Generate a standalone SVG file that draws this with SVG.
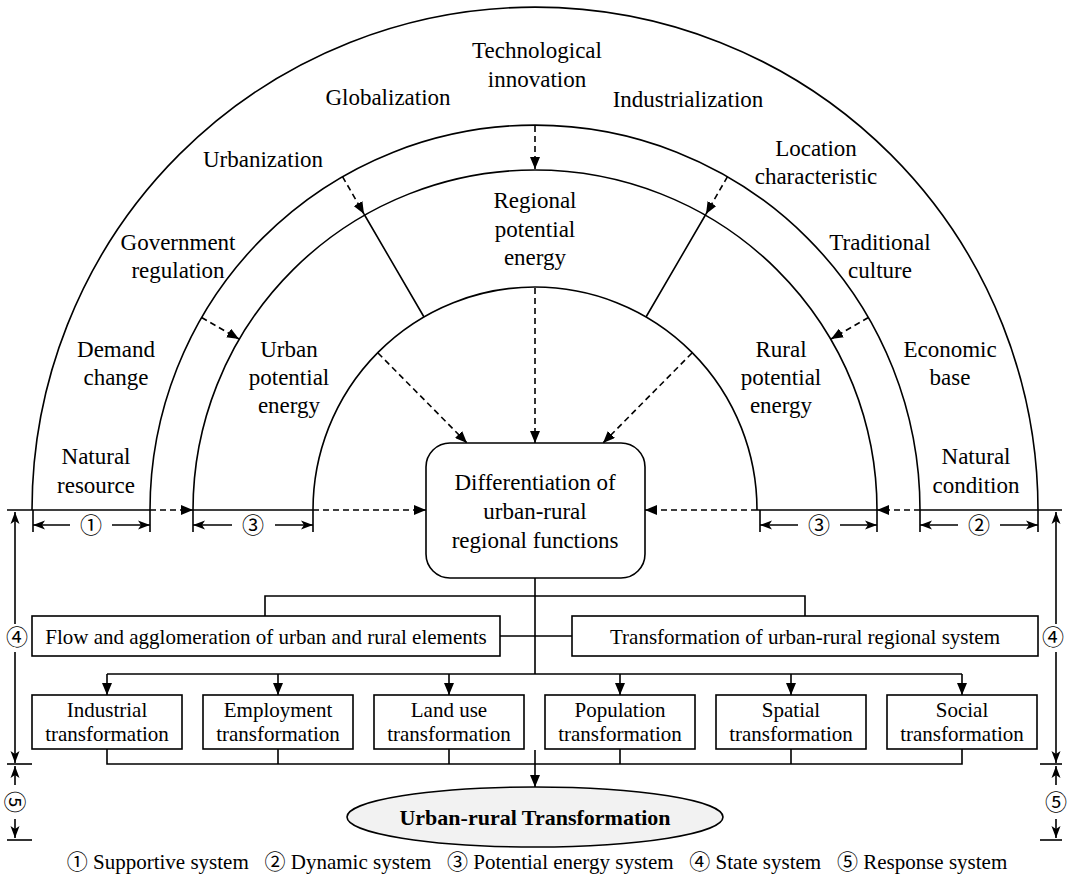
<svg xmlns="http://www.w3.org/2000/svg" width="1067" height="879" viewBox="0 0 1067 879">
  <defs>
    <marker id="ah" viewBox="0 0 12 10" refX="12" refY="5" markerWidth="12" markerHeight="10" markerUnits="userSpaceOnUse" orient="auto">
      <path d="M0,0 L12,5 L0,10 z" fill="#000" stroke="none"/>
    </marker>
    <marker id="dim" viewBox="0 0 12 10" refX="12" refY="5" markerWidth="12" markerHeight="10" markerUnits="userSpaceOnUse" orient="auto">
      <path d="M0,0.5 L12,5 L0,9.5 L3,5 z" fill="#000" stroke="none"/>
    </marker>
    <style>
      .ln { fill: none; stroke: #000; stroke-width: 1.6; }
      .dash { fill: none; stroke: #000; stroke-width: 1.6; stroke-dasharray: 6 4; }
      .box { fill: #fff; stroke: #000; stroke-width: 1.6; }
      text { font-family: "Liberation Serif", "Times New Roman", "Noto Sans CJK SC", serif; fill: #000; text-anchor: middle; }
      .lbl { font-size: 23px; }
      .bx { font-size: 21px; }
      .num { font-size: 22px; }
      .leg { font-size: 21px; }
    </style>
  </defs>

  <!-- concentric bands -->
  <g id="bands">
    <path class="ln" d="M32 510 A503 503 0 0 1 1038 510"/>
    <path class="ln" d="M150 510 A385 385 0 0 1 920 510"/>
    <path class="ln" d="M193 510 A342 340 0 0 1 877 510"/>
    <path class="ln" d="M313 510 A222 223 0 0 1 757 510"/>
    <!-- base line segments of the bands -->
    <path class="ln" d="M7 510 H150 M193 510 H313 M757 510 H877 M920 510 H1062"/>
    <!-- radial dividers of the potential energy band -->
    <path class="ln" d="M364 214 L424 317 M706 214 L646 317"/>
  </g>

  <!-- outer band: supportive and dynamic factors -->
  <g id="outer-labels" class="lbl">
    <text x="96" y="464">Natural</text><text x="96" y="493">resource</text>
    <text x="116" y="357">Demand</text><text x="116" y="385">change</text>
    <text x="178" y="250">Government</text><text x="178" y="278">regulation</text>
    <text x="263" y="167">Urbanization</text>
    <text x="388" y="105">Globalization</text>
    <text x="537" y="58">Technological</text><text x="537" y="87">innovation</text>
    <text x="688" y="107">Industrialization</text>
    <text x="816" y="156">Location</text><text x="816" y="184">characteristic</text>
    <text x="880" y="250">Traditional</text><text x="880" y="278">culture</text>
    <text x="950" y="357">Economic</text><text x="950" y="385">base</text>
    <text x="976" y="464">Natural</text><text x="976" y="493">condition</text>
  </g>

  <!-- potential energy band -->
  <g id="potential-labels" class="lbl">
    <text x="289" y="357">Urban</text><text x="289" y="385">potential</text><text x="289" y="413">energy</text>
    <text x="535" y="208">Regional</text><text x="535" y="237">potential</text><text x="535" y="265">energy</text>
    <text x="781" y="357">Rural</text><text x="781" y="385">potential</text><text x="781" y="413">energy</text>
  </g>

  <!-- central node -->
  <g id="differentiation">
    <rect class="box" x="426" y="443" width="219" height="135" rx="24" ry="24"/>
    <text class="lbl" x="535" y="490">Differentiation of</text>
    <text class="lbl" x="535" y="519">urban-rural</text>
    <text class="lbl" x="535" y="548">regional functions</text>
  </g>

  <g id="flow">
    <rect class="box" x="32" y="616" width="468" height="40"/>
    <text class="bx" x="266" y="644">Flow and agglomeration of urban and rural elements</text>
  </g>
  <g id="system">
    <rect class="box" x="572" y="616" width="466" height="40"/>
    <text class="bx" x="805" y="644">Transformation of urban-rural regional system</text>
  </g>

  <g id="industrial">
    <rect class="box" x="32" y="695" width="150" height="54"/>
    <text class="bx" x="107" y="717">Industrial</text><text class="bx" x="107" y="741">transformation</text>
  </g>
  <g id="employment">
    <rect class="box" x="203" y="695" width="150" height="54"/>
    <text class="bx" x="278" y="717">Employment</text><text class="bx" x="278" y="741">transformation</text>
  </g>
  <g id="landuse">
    <rect class="box" x="374" y="695" width="150" height="54"/>
    <text class="bx" x="449" y="717">Land use</text><text class="bx" x="449" y="741">transformation</text>
  </g>
  <g id="population">
    <rect class="box" x="545" y="695" width="150" height="54"/>
    <text class="bx" x="620" y="717">Population</text><text class="bx" x="620" y="741">transformation</text>
  </g>
  <g id="spatial">
    <rect class="box" x="716" y="695" width="150" height="54"/>
    <text class="bx" x="791" y="717">Spatial</text><text class="bx" x="791" y="741">transformation</text>
  </g>
  <g id="social">
    <rect class="box" x="887" y="695" width="150" height="54"/>
    <text class="bx" x="962" y="717">Social</text><text class="bx" x="962" y="741">transformation</text>
  </g>

  <g id="result">
    <ellipse cx="535" cy="817" rx="188" ry="30" fill="#f2f2f2" stroke="#000" stroke-width="1.6"/>
    <text x="535" y="825" font-size="22" font-weight="bold">Urban-rural Transformation</text>
  </g>

  <!-- connectors -->
  <g id="connectors">
    <!-- influences crossing the bands -->
    <line class="dash" x1="535" y1="126" x2="535" y2="169" marker-end="url(#ah)"/>
    <line class="dash" x1="342.5" y1="176.6" x2="364" y2="214" marker-end="url(#ah)"/>
    <line class="dash" x1="727.5" y1="176.6" x2="706" y2="214" marker-end="url(#ah)"/>
    <line class="dash" x1="201.6" y1="317.5" x2="239" y2="339" marker-end="url(#ah)"/>
    <line class="dash" x1="868.4" y1="317.5" x2="831" y2="339" marker-end="url(#ah)"/>
    <line class="dash" x1="150" y1="510" x2="193" y2="510" marker-end="url(#ah)"/>
    <line class="dash" x1="920" y1="510" x2="877" y2="510" marker-end="url(#ah)"/>
    <line class="dash" x1="313" y1="510" x2="426" y2="510" marker-end="url(#ah)"/>
    <line class="dash" x1="757" y1="510" x2="645" y2="510" marker-end="url(#ah)"/>
    <line class="dash" x1="378" y1="353" x2="467" y2="443" marker-end="url(#ah)"/>
    <line class="dash" x1="535" y1="288" x2="535" y2="443" marker-end="url(#ah)"/>
    <line class="dash" x1="692" y1="353" x2="603" y2="443" marker-end="url(#ah)"/>

    <!-- tree below the central node -->
    <path class="ln" d="M535 578 V674 M265 616 V596 H805 V616 M500 636 H572"/>
    <path class="ln" d="M107 674 H962"/>
    <line class="ln" x1="107" y1="674" x2="107" y2="695" marker-end="url(#ah)"/>
    <line class="ln" x1="278" y1="674" x2="278" y2="695" marker-end="url(#ah)"/>
    <line class="ln" x1="449" y1="674" x2="449" y2="695" marker-end="url(#ah)"/>
    <line class="ln" x1="620" y1="674" x2="620" y2="695" marker-end="url(#ah)"/>
    <line class="ln" x1="791" y1="674" x2="791" y2="695" marker-end="url(#ah)"/>
    <line class="ln" x1="962" y1="674" x2="962" y2="695" marker-end="url(#ah)"/>
    <path class="ln" d="M107 749 V764 H962 V749 M278 749 V764 M449 749 V764 M620 749 V764 M791 749 V764"/>
    <line class="ln" x1="535" y1="750" x2="535" y2="787" marker-end="url(#ah)"/>
  </g>

  <!-- dimension marks -->
  <g id="dimensions">
    <path class="ln" d="M33 510 V532 M150 510 V532 M193 510 V532 M313 510 V532 M760 510 V532 M877 510 V532 M920 510 V532 M1038 510 V532"/>
    <line class="ln" x1="70" y1="525" x2="33" y2="525" marker-end="url(#dim)"/>
    <line class="ln" x1="112" y1="525" x2="150" y2="525" marker-end="url(#dim)"/>
    <text class="num" x="91" y="533">①</text>
    <line class="ln" x1="232" y1="525" x2="193" y2="525" marker-end="url(#dim)"/>
    <line class="ln" x1="275" y1="525" x2="313" y2="525" marker-end="url(#dim)"/>
    <text class="num" x="253" y="533">③</text>
    <line class="ln" x1="798" y1="525" x2="760" y2="525" marker-end="url(#dim)"/>
    <line class="ln" x1="840" y1="525" x2="877" y2="525" marker-end="url(#dim)"/>
    <text class="num" x="819" y="533">③</text>
    <line class="ln" x1="958" y1="525" x2="920" y2="525" marker-end="url(#dim)"/>
    <line class="ln" x1="1000" y1="525" x2="1038" y2="525" marker-end="url(#dim)"/>
    <text class="num" x="979" y="533">②</text>

    <!-- left side -->
    <line class="ln" x1="15" y1="624" x2="15" y2="512" marker-end="url(#dim)"/>
    <text class="num" x="17" y="645">④</text>
    <line class="ln" x1="15" y1="652" x2="15" y2="763" marker-end="url(#dim)"/>
    <path class="ln" d="M7 764 H32"/>
    <line class="ln" x1="15" y1="785" x2="15" y2="766" marker-end="url(#dim)"/>
    <text class="num" x="0" y="0" transform="translate(15 802) rotate(90) translate(0 8)">⑤</text>
    <line class="ln" x1="15" y1="819" x2="15" y2="838" marker-end="url(#dim)"/>
    <path class="ln" d="M7 840 H32"/>

    <!-- right side -->
    <line class="ln" x1="1056" y1="624" x2="1056" y2="512" marker-end="url(#dim)"/>
    <text class="num" x="1053" y="645">④</text>
    <line class="ln" x1="1056" y1="652" x2="1056" y2="763" marker-end="url(#dim)"/>
    <path class="ln" d="M1040 764 H1062"/>
    <line class="ln" x1="1056" y1="785" x2="1056" y2="766" marker-end="url(#dim)"/>
    <text class="num" x="1056" y="810">⑤</text>
    <line class="ln" x1="1056" y1="819" x2="1056" y2="838" marker-end="url(#dim)"/>
    <path class="ln" d="M1040 840 H1062"/>
  </g>

  <!-- legend -->
  <g id="legend">
    <text class="leg" x="537" y="869" xml:space="preserve">① Supportive system   ② Dynamic system   ③ Potential energy system   ④ State system   ⑤ Response system</text>
  </g>
</svg>
